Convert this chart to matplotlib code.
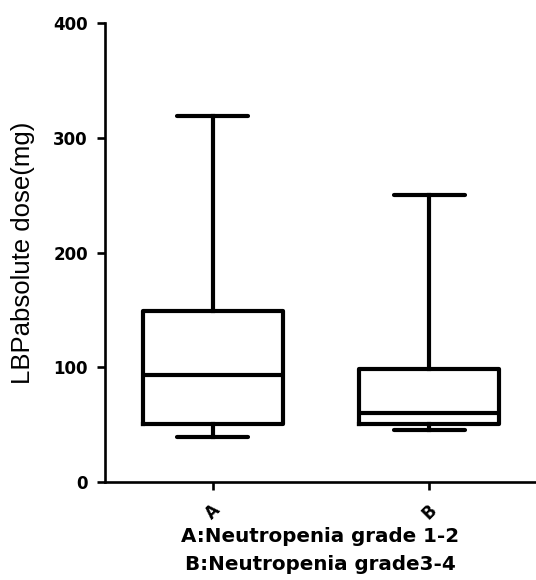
import matplotlib
matplotlib.use("Agg")
import matplotlib.pyplot as plt

plt.rcParams['font.family'] = ['DejaVu Sans']

# box statistics
groups = ['A', 'B']
whisker_low = [39, 45]
q1 = [51, 51]
median = [93, 60]
q3 = [149, 99]
whisker_high = [319, 250]

stats = []
for g, lo, a, m, b, hi in zip(groups, whisker_low, q1, median, q3, whisker_high):
    stats.append({'label': g, 'whislo': lo, 'q1': a, 'med': m, 'q3': b, 'whishi': hi, 'fliers': []})

fig = plt.figure(figsize=(5.36, 5.8), dpi=100)
ax = fig.add_axes([0.195, 0.169, 0.805, 0.7905])

lw = 3.0
ax.bxp(stats, positions=[1, 2], widths=0.648, showfliers=False, capwidths=0.33,
       boxprops=dict(color='black', linewidth=lw),
       medianprops=dict(color='black', linewidth=lw),
       whiskerprops=dict(color='black', linewidth=lw),
       capprops=dict(color='black', linewidth=lw, solid_capstyle='round'))

ax.set_xlim(0.5, 2.493)
ax.set_ylim(0, 400)

for s in ['top', 'right']:
    ax.spines[s].set_visible(False)
for s in ['left', 'bottom']:
    ax.spines[s].set_linewidth(1.9)

# ticks: set padding first, then labels
ax.tick_params(axis='both', width=1.9, length=6, direction='out', labelsize=12)
ax.tick_params(axis='x', pad=8)
ax.tick_params(axis='y', pad=6)
ax.set_yticks([0, 100, 200, 300, 400])
ax.set_xticks([1, 2])
ax.set_xticklabels(groups, rotation=45, fontsize=12, fontweight='bold')
for t in ax.get_yticklabels():
    t.set_fontsize(12)
    t.set_fontweight('bold')

ax.set_ylabel('LBPabsolute dose(mg)', fontsize=18.5, family='Liberation Sans', labelpad=13)
ax.set_xlabel('A:Neutropenia grade 1-2\nB:Neutropenia grade3-4', fontsize=14.3,
              fontweight='bold', labelpad=3, linespacing=1.55)

fig.savefig('out.png', dpi=100)
